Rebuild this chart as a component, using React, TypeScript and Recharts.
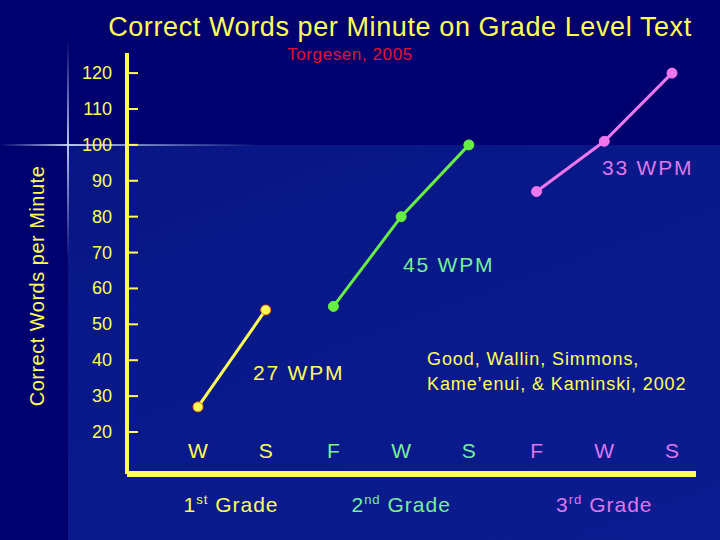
import React from 'react';
import { LineChart, Line, XAxis, YAxis } from 'recharts';

const seasons = ['W', 'S', 'F', 'W', 'S', 'F', 'W', 'S'];
const firstGrade = [27, 54, null, null, null, null, null, null];
const secondGrade = [null, null, 55, 80, 100, null, null, null];
const thirdGrade = [null, null, null, null, null, 87, 101, 120];
const yTicks = [20, 30, 40, 50, 60, 70, 80, 90, 100, 110, 120];
const gradeLabels = [
  { at: 0, num: '1', sup: 'st' },
  { at: 3, num: '2', sup: 'nd' },
  { at: 6, num: '3', sup: 'rd' },
];

const YELLOW = '#ffff55';
const GREEN = '#66ee44';
const GREEN_TXT = '#77ee99';
const PINK = '#ee77ee';
const PINK_TXT = '#dd77ee';
const FONT = '"Liberation Sans", Arial, sans-serif';
const AXIS_X = 127;

const data = seasons.map((s, i) => ({
  season: s,
  g1: firstGrade[i],
  g2: secondGrade[i],
  g3: thirdGrade[i],
}));

const tickColor = (i: number) => (i < 2 ? YELLOW : i < 5 ? GREEN_TXT : PINK_TXT);

const XTick = (props: any) => {
  const { x, y, payload, index } = props;
  const g = gradeLabels.find(l => l.at === index);
  const col = tickColor(index);
  return (
    <g>
      <text x={x} y={y - 32} textAnchor="middle" dominantBaseline="central" fill={col} fontSize={21} fontFamily={FONT}>
        {payload.value}
      </text>
      {g && (
        <text
          x={index === 0 ? x + 33 : x}
          y={y + 30}
          textAnchor="middle"
          fill={col}
          fontSize={21}
          letterSpacing={1}
          fontFamily={FONT}
        >
          {g.num}
          <tspan fontSize={13} dy={-8}>{g.sup}</tspan>
          <tspan dy={8}> Grade</tspan>
        </text>
      )}
    </g>
  );
};

const YTick = (props: any) => {
  const { y, payload } = props;
  return (
    <g>
      <line x1={AXIS_X} x2={AXIS_X + 11} y1={y} y2={y} stroke={YELLOW} strokeWidth={2} />
      <text x={112} y={y} textAnchor="end" dominantBaseline="central" fill={YELLOW} fontSize={18} fontFamily={FONT}>
        {payload.value}
      </text>
    </g>
  );
};

const txt = (extra: React.CSSProperties): React.CSSProperties => ({
  position: 'absolute',
  fontFamily: FONT,
  whiteSpace: 'nowrap',
  lineHeight: 1,
  ...extra,
});

export default function App() {
  return (
    <div
      style={{
        position: 'absolute',
        left: 0,
        top: 0,
        width: 720,
        height: 540,
        overflow: 'hidden',
        background: '#00006e',
      }}
    >
      <div
        style={{
          position: 'absolute',
          left: 68,
          top: 145,
          width: 652,
          height: 395,
          background: 'linear-gradient(160deg, #081684 0%, #0a1a8c 60%, #0c1c90 100%)',
        }}
      />
      <div
        style={{
          position: 'absolute',
          left: 0,
          top: 144,
          width: 260,
          height: 2,
          background: 'linear-gradient(90deg, rgba(80,120,255,0) 0%, rgba(200,220,255,0.9) 26%, rgba(80,120,255,0) 100%)',
        }}
      />
      <div
        style={{
          position: 'absolute',
          left: 67,
          top: 40,
          width: 2,
          height: 220,
          background: 'linear-gradient(180deg, rgba(80,120,255,0) 0%, rgba(200,220,255,0.9) 48%, rgba(80,120,255,0) 100%)',
        }}
      />
      <div style={txt({ left: 0, width: 800, top: 14, textAlign: 'center', color: YELLOW, fontSize: 27, letterSpacing: 0.6 })}>
        Correct Words per Minute on Grade Level Text
      </div>
      <div style={txt({ left: 250, width: 200, top: 46, textAlign: 'center', color: '#e8102a', fontSize: 17, letterSpacing: 0.6 })}>
        Torgesen, 2005
      </div>
      <div
        style={txt({
          left: 37,
          top: 286,
          color: YELLOW,
          fontSize: 20,
          letterSpacing: 0.5,
          transform: 'translate(-50%, -50%) rotate(-90deg)',
        })}
      >
        Correct Words per Minute
      </div>
      <div style={{ position: 'absolute', left: 0, top: 0 }}>
        <LineChart width={720} height={540} data={data} margin={{ top: 53, right: 24, bottom: 0, left: 0 }}>
          <XAxis
            dataKey="season"
            height={66}
            padding={{ left: 71, right: 24 }}
            axisLine={{ stroke: YELLOW, strokeWidth: 6 }}
            tickLine={false}
            tick={<XTick />}
            interval={0}
          />
          <YAxis
            width={127}
            domain={[8.3, 125.6]}
            ticks={yTicks}
            allowDataOverflow
            axisLine={{ stroke: YELLOW, strokeWidth: 4 }}
            tickLine={false}
            tick={<YTick />}
          />
          <Line dataKey="g1" stroke={YELLOW} strokeWidth={3} isAnimationActive={false}
            dot={{ r: 5, fill: YELLOW, stroke: '#ff6a00', strokeWidth: 1 }} />
          <Line dataKey="g2" stroke={GREEN} strokeWidth={3} isAnimationActive={false}
            dot={{ r: 5, fill: GREEN, stroke: GREEN, strokeWidth: 1 }} />
          <Line dataKey="g3" stroke={PINK} strokeWidth={3} isAnimationActive={false}
            dot={{ r: 5, fill: PINK, stroke: PINK, strokeWidth: 1 }} />
        </LineChart>
      </div>
      <div style={txt({ left: 253, top: 362, color: YELLOW, fontSize: 21, letterSpacing: 1.8 })}>27 WPM</div>
      <div style={txt({ left: 403, top: 254, color: GREEN_TXT, fontSize: 21, letterSpacing: 1.8 })}>45 WPM</div>
      <div style={txt({ left: 602, top: 157, color: PINK_TXT, fontSize: 21, letterSpacing: 1.8 })}>33 WPM</div>
      <div style={txt({ left: 427, top: 347, color: YELLOW, fontSize: 18, letterSpacing: 0.9, lineHeight: '25px' })}>
        Good, Wallin, Simmons,
        <br />
        Kame’enui, &amp; Kaminski, 2002
      </div>
    </div>
  );
}
